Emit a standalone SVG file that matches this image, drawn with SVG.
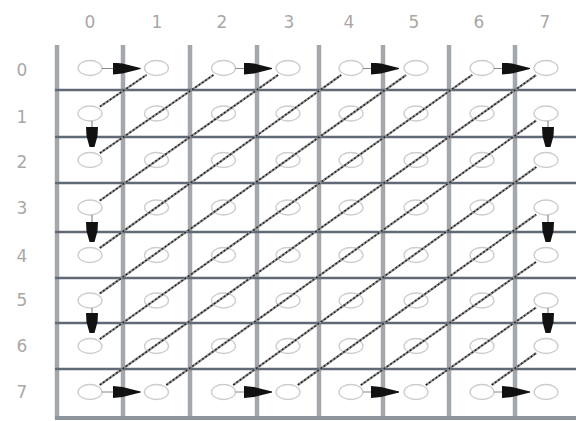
<svg xmlns="http://www.w3.org/2000/svg" width="576" height="421" viewBox="0 0 576 421">
<style>
.lbl{font-family:"DejaVu Sans","Liberation Sans",sans-serif;font-size:17px;fill:#a8a8a8;text-anchor:middle;dominant-baseline:central}
.v{stroke:#a4a8ac;stroke-width:4.5}
.h{stroke:#5f6a76;stroke-width:2.5}
.ov{fill:none;stroke:#cdcdcd;stroke-width:1.3}
.dg{stroke:#8c8c8c;stroke-width:2.2;fill:none}
.dd{stroke:#222;stroke-width:1.5;stroke-dasharray:1.8 2.2;fill:none}
.ar{stroke:#8a8a8a;stroke-width:1.2;fill:none}
.arR{marker-end:url(#mR)}
.arD{marker-end:url(#mD)}
</style>
<defs>
<linearGradient id="gTop" x1="0" y1="0" x2="1" y2="0">
<stop offset="0" stop-color="#c4d6dc"/>
<stop offset="0.5" stop-color="#7d8c9c"/>
<stop offset="1" stop-color="#2e3848"/>
</linearGradient>
<marker id="mR" viewBox="0 0 28 12" refX="28" refY="6" markerWidth="28" markerHeight="12" markerUnits="userSpaceOnUse" orient="auto">
<path d="M0,0 L10,1 L28,5.5 L28,6.5 L10,11 L0,12 Z" fill="#111"/>
</marker>
<marker id="mD" viewBox="0 0 20 12" refX="20" refY="6" markerWidth="20" markerHeight="12" markerUnits="userSpaceOnUse" orient="auto">
<path d="M0,0 L9,0.5 L20,3.5 L20,8.5 L9,11.5 L0,12 Z" fill="#111"/>
</marker>
</defs>
<rect width="576" height="421" fill="#fff"/>
<g id="labels">
<text class="lbl" x="90" y="22">0</text>
<text class="lbl" x="157" y="22">1</text>
<text class="lbl" x="222" y="22">2</text>
<text class="lbl" x="289" y="22">3</text>
<text class="lbl" x="349" y="22">4</text>
<text class="lbl" x="414" y="22">5</text>
<text class="lbl" x="479" y="22">6</text>
<text class="lbl" x="545" y="22">7</text>
<text class="lbl" x="22" y="70">0</text>
<text class="lbl" x="22" y="117">1</text>
<text class="lbl" x="22" y="162">2</text>
<text class="lbl" x="22" y="208">3</text>
<text class="lbl" x="22" y="256">4</text>
<text class="lbl" x="22" y="300">5</text>
<text class="lbl" x="22" y="346">6</text>
<text class="lbl" x="22" y="392">7</text>
</g>
<g id="grid">
<line class="v" x1="57" y1="45" x2="57" y2="419"/>
<line class="v" x1="123" y1="45" x2="123" y2="419"/>
<line class="v" x1="190" y1="45" x2="190" y2="419"/>
<line class="v" x1="257" y1="45" x2="257" y2="419"/>
<line class="v" x1="319" y1="45" x2="319" y2="419"/>
<line class="v" x1="383" y1="45" x2="383" y2="419"/>
<line class="v" x1="449" y1="45" x2="449" y2="419"/>
<line class="v" x1="515" y1="45" x2="515" y2="419"/>
<line class="h" x1="55" y1="90" x2="576" y2="90"/>
<line class="h" x1="55" y1="137" x2="576" y2="137"/>
<line class="h" x1="55" y1="183" x2="576" y2="183"/>
<line class="h" x1="55" y1="232" x2="576" y2="232"/>
<line class="h" x1="55" y1="278" x2="576" y2="278"/>
<line class="h" x1="55" y1="323" x2="576" y2="323"/>
<line class="h" x1="55" y1="369" x2="576" y2="369"/>
<line x1="55" y1="418" x2="576" y2="418" stroke="#8d949b" stroke-width="4"/>
<line x1="55" y1="45" x2="576" y2="45" stroke="url(#gTop)" stroke-width="4.5"/>
</g>
<g id="cells">
<g id="r0"><ellipse class="ov" cx="90" cy="68" rx="12" ry="7.5"/><ellipse class="ov" cx="156.5" cy="68" rx="12" ry="7.5"/><ellipse class="ov" cx="223.5" cy="68" rx="12" ry="7.5"/><ellipse class="ov" cx="288" cy="68" rx="12" ry="7.5"/><ellipse class="ov" cx="351" cy="68" rx="12" ry="7.5"/><ellipse class="ov" cx="416" cy="68" rx="12" ry="7.5"/><ellipse class="ov" cx="482" cy="68" rx="12" ry="7.5"/><ellipse class="ov" cx="546" cy="68" rx="12" ry="7.5"/></g>
<g id="r1"><ellipse class="ov" cx="90" cy="113.5" rx="12" ry="7.5"/><ellipse class="ov" cx="156.5" cy="113.5" rx="12" ry="7.5"/><ellipse class="ov" cx="223.5" cy="113.5" rx="12" ry="7.5"/><ellipse class="ov" cx="288" cy="113.5" rx="12" ry="7.5"/><ellipse class="ov" cx="351" cy="113.5" rx="12" ry="7.5"/><ellipse class="ov" cx="416" cy="113.5" rx="12" ry="7.5"/><ellipse class="ov" cx="482" cy="113.5" rx="12" ry="7.5"/><ellipse class="ov" cx="546" cy="113.5" rx="12" ry="7.5"/></g>
<g id="r2"><ellipse class="ov" cx="90" cy="160" rx="12" ry="7.5"/><ellipse class="ov" cx="156.5" cy="160" rx="12" ry="7.5"/><ellipse class="ov" cx="223.5" cy="160" rx="12" ry="7.5"/><ellipse class="ov" cx="288" cy="160" rx="12" ry="7.5"/><ellipse class="ov" cx="351" cy="160" rx="12" ry="7.5"/><ellipse class="ov" cx="416" cy="160" rx="12" ry="7.5"/><ellipse class="ov" cx="482" cy="160" rx="12" ry="7.5"/><ellipse class="ov" cx="546" cy="160" rx="12" ry="7.5"/></g>
<g id="r3"><ellipse class="ov" cx="90" cy="207.5" rx="12" ry="7.5"/><ellipse class="ov" cx="156.5" cy="207.5" rx="12" ry="7.5"/><ellipse class="ov" cx="223.5" cy="207.5" rx="12" ry="7.5"/><ellipse class="ov" cx="288" cy="207.5" rx="12" ry="7.5"/><ellipse class="ov" cx="351" cy="207.5" rx="12" ry="7.5"/><ellipse class="ov" cx="416" cy="207.5" rx="12" ry="7.5"/><ellipse class="ov" cx="482" cy="207.5" rx="12" ry="7.5"/><ellipse class="ov" cx="546" cy="207.5" rx="12" ry="7.5"/></g>
<g id="r4"><ellipse class="ov" cx="90" cy="255" rx="12" ry="7.5"/><ellipse class="ov" cx="156.5" cy="255" rx="12" ry="7.5"/><ellipse class="ov" cx="223.5" cy="255" rx="12" ry="7.5"/><ellipse class="ov" cx="288" cy="255" rx="12" ry="7.5"/><ellipse class="ov" cx="351" cy="255" rx="12" ry="7.5"/><ellipse class="ov" cx="416" cy="255" rx="12" ry="7.5"/><ellipse class="ov" cx="482" cy="255" rx="12" ry="7.5"/><ellipse class="ov" cx="546" cy="255" rx="12" ry="7.5"/></g>
<g id="r5"><ellipse class="ov" cx="90" cy="300.5" rx="12" ry="7.5"/><ellipse class="ov" cx="156.5" cy="300.5" rx="12" ry="7.5"/><ellipse class="ov" cx="223.5" cy="300.5" rx="12" ry="7.5"/><ellipse class="ov" cx="288" cy="300.5" rx="12" ry="7.5"/><ellipse class="ov" cx="351" cy="300.5" rx="12" ry="7.5"/><ellipse class="ov" cx="416" cy="300.5" rx="12" ry="7.5"/><ellipse class="ov" cx="482" cy="300.5" rx="12" ry="7.5"/><ellipse class="ov" cx="546" cy="300.5" rx="12" ry="7.5"/></g>
<g id="r6"><ellipse class="ov" cx="90" cy="346" rx="12" ry="7.5"/><ellipse class="ov" cx="156.5" cy="346" rx="12" ry="7.5"/><ellipse class="ov" cx="223.5" cy="346" rx="12" ry="7.5"/><ellipse class="ov" cx="288" cy="346" rx="12" ry="7.5"/><ellipse class="ov" cx="351" cy="346" rx="12" ry="7.5"/><ellipse class="ov" cx="416" cy="346" rx="12" ry="7.5"/><ellipse class="ov" cx="482" cy="346" rx="12" ry="7.5"/><ellipse class="ov" cx="546" cy="346" rx="12" ry="7.5"/></g>
<g id="r7"><ellipse class="ov" cx="90" cy="392" rx="12" ry="7.5"/><ellipse class="ov" cx="156.5" cy="392" rx="12" ry="7.5"/><ellipse class="ov" cx="223.5" cy="392" rx="12" ry="7.5"/><ellipse class="ov" cx="288" cy="392" rx="12" ry="7.5"/><ellipse class="ov" cx="351" cy="392" rx="12" ry="7.5"/><ellipse class="ov" cx="416" cy="392" rx="12" ry="7.5"/><ellipse class="ov" cx="482" cy="392" rx="12" ry="7.5"/><ellipse class="ov" cx="546" cy="392" rx="12" ry="7.5"/></g>
</g>
<g id="connectors">
<g id="diagonals">
<path class="dg" d="M99.9,106.7 L146.6,74.8 M99.9,153.2 L213.6,74.8 M99.8,200.6 L278.2,74.9 M99.8,248 L341.2,75 M99.8,293.5 L406.2,75 M99.8,339.1 L472.2,74.9 M99.8,385 L536.2,75 M166.3,385 L536.2,120.5 M233.2,385 L536.3,167 M297.8,385 L536.2,214.5 M360.8,385.1 L536.2,261.9 M425.8,385.1 L536.2,307.4 M491.7,385 L536.3,353"/>
<path class="dd" d="M99.9,106.7 L146.6,74.8 M99.9,153.2 L213.6,74.8 M99.8,200.6 L278.2,74.9 M99.8,248 L341.2,75 M99.8,293.5 L406.2,75 M99.8,339.1 L472.2,74.9 M99.8,385 L536.2,75 M166.3,385 L536.2,120.5 M233.2,385 L536.3,167 M297.8,385 L536.2,214.5 M360.8,385.1 L536.2,261.9 M425.8,385.1 L536.2,307.4 M491.7,385 L536.3,353"/>
</g>
<g id="arrows">
<line class="ar arR" x1="102" y1="68.5" x2="140.5" y2="68.5"/>
<line class="ar arR" x1="235.5" y1="68.5" x2="272" y2="68.5"/>
<line class="ar arR" x1="363" y1="68.5" x2="399" y2="68.5"/>
<line class="ar arR" x1="494" y1="68.5" x2="530" y2="68.5"/>
<line class="ar arR" x1="102" y1="392" x2="140.5" y2="392"/>
<line class="ar arR" x1="235.5" y1="392" x2="272" y2="392"/>
<line class="ar arR" x1="363" y1="392" x2="399" y2="392"/>
<line class="ar arR" x1="494" y1="392" x2="530" y2="392"/>
<line class="ar arD" x1="92" y1="121" x2="92" y2="147"/>
<line class="ar arD" x1="92" y1="215" x2="92" y2="242"/>
<line class="ar arD" x1="92" y1="308" x2="92" y2="333"/>
<line class="ar arD" x1="548" y1="121" x2="548" y2="147"/>
<line class="ar arD" x1="548" y1="215" x2="548" y2="242"/>
<line class="ar arD" x1="548" y1="308" x2="548" y2="333"/>
</g>
</g>
</svg>
